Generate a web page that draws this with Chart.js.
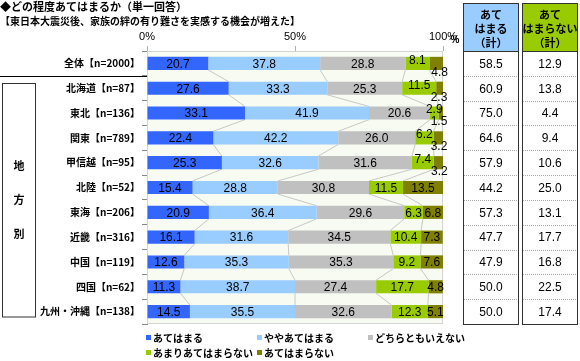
<!DOCTYPE html>
<html>
<head>
<meta charset="utf-8">
<script src="https://cdn.jsdelivr.net/npm/chart.js@4/dist/chart.umd.min.js"></script>
<style>
  body { margin: 0; background: #fff; }
  canvas { display: block; }
</style>
</head>
<body>
<canvas id="graph" width="580" height="361"></canvas>
<script>
/* donnees */
var categories = ['全体【n=2000】', '北海道【n=87】', '東北【n=136】', '関東【n=789】', '甲信越【n=95】',
  '北陸【n=52】', '東海【n=206】', '近畿【n=316】', '中国【n=119】', '四国【n=62】', '九州・沖縄【n=138】'];
var seriesNames = ['あてはまる', 'ややあてはまる', 'どちらともいえない', 'あまりあてはまらない', 'あてはまらない'];
var atehamaru = [20.7, 27.6, 33.1, 22.4, 25.3, 15.4, 20.9, 16.1, 12.6, 11.3, 14.5];
var yaya = [37.8, 33.3, 41.9, 42.2, 32.6, 28.8, 36.4, 31.6, 35.3, 38.7, 35.5];
var dochira = [28.8, 25.3, 20.6, 26.0, 31.6, 30.8, 29.6, 34.5, 35.3, 27.4, 32.6];
var amari = [8.1, 11.5, 2.9, 6.2, 7.4, 11.5, 6.3, 10.4, 9.2, 17.7, 12.3];
var atehamaranai = [4.8, 2.3, 1.5, 3.2, 3.2, 13.5, 6.8, 7.3, 7.6, 4.8, 5.1];
var totalYes = [58.5, 60.9, 75.0, 64.6, 57.9, 44.2, 57.3, 47.7, 47.9, 50.0, 50.0];
var totalNo = [12.9, 13.8, 4.4, 9.4, 10.6, 25.0, 13.1, 17.7, 16.8, 22.5, 17.4];
var xTicks = [0, 50, 100];

var colors = ['#3366ff', '#99ccff', '#c0c0c0', '#99cc00', '#808000'];
var FONT = '"Liberation Sans", "Noto Sans CJK JP", sans-serif';
var JP = '"Noto Sans CJK JP", sans-serif';

var allSeries = [atehamaru, yaya, dochira, amari, atehamaranai];

// petite etiquette en dehors de la barre quand les 2 derniers segments sont trop petits
function isTight(i) {
    return atehamaranai[i] < 5 && amari[i] < 12;
}

/* fond de la zone + traits entre les barres */
var fondPlugin = {
    id: 'fond',
    beforeDatasetsDraw: function(chart) {
        var ctx = chart.ctx, a = chart.chartArea;
        ctx.save();
        ctx.fillStyle = '#f7fbf1';
        ctx.fillRect(a.left, a.top, a.right - a.left, a.bottom - a.top);
        ctx.strokeStyle = '#d4d4d4';
        ctx.lineWidth = 1;
        ctx.strokeRect(a.left + 0.5, a.top + 0.5, a.right - a.left - 1, a.bottom - a.top - 1);

        // lignes de liaison (series lines)
        ctx.strokeStyle = '#c8c8c8';
        for (var k = 0; k < 4; k++) {
            var meta = chart.getDatasetMeta(k);
            for (var i = 0; i < categories.length - 1; i++) {
                var b1 = meta.data[i], b2 = meta.data[i + 1];
                ctx.beginPath();
                ctx.moveTo(b1.x, b1.y + b1.height / 2);
                ctx.lineTo(b2.x, b2.y - b2.height / 2);
                ctx.stroke();
            }
        }
        ctx.restore();
    }
};

/* etiquettes des valeurs */
var labelPlugin = {
    id: 'etiquettes',
    afterDatasetsDraw: function(chart) {
        var ctx = chart.ctx;
        ctx.save();
        ctx.font = '12px ' + FONT;
        ctx.fillStyle = '#000';
        ctx.textAlign = 'center';
        ctx.textBaseline = 'middle';
        chart.data.datasets.forEach(function(ds, k) {
            var meta = chart.getDatasetMeta(k);
            meta.data.forEach(function(bar, i) {
                var x = (bar.x + bar.base) / 2;
                var y = bar.y + 1;
                if (isTight(i) && k == 3) y -= 4;
                if (isTight(i) && k == 4) { x = bar.x - 4; y += 8; }
                ctx.fillText(ds.data[i].toFixed(1), x, y);
            });
        });
        ctx.restore();
    }
};

/* titre, encadre gauche, tableau, legende */
var decorPlugin = {
    id: 'decor',
    afterDraw: function(chart) {
        var ctx = chart.ctx, a = chart.chartArea;
        var yScale = chart.scales.y;
        var n = categories.length;
        var rowH = (yScale.bottom - yScale.top) / n;
        ctx.save();
        ctx.fillStyle = '#000';
        ctx.textBaseline = 'middle';

        // titre
        ctx.textAlign = 'left';
        ctx.font = 'bold 11px ' + JP;
        ctx.fillText('◆どの程度あてはまるか（単一回答）', 0, 7);
        ctx.font = 'bold 10px ' + JP;
        ctx.fillText('【東日本大震災後、家族の絆の有り難さを実感する機会が増えた】', 0, 21);

        // separateur sous "全体"
        var sepY = Math.round(yScale.top + rowH) + 0.5;
        ctx.strokeStyle = '#000';
        ctx.lineWidth = 1;
        ctx.beginPath();
        ctx.moveTo(0, sepY);
        ctx.lineTo(a.left, sepY);
        ctx.stroke();

        // encadre "地方別"
        var boxTop = sepY + 7, boxBot = yScale.bottom - 7;
        ctx.strokeStyle = '#333';
        ctx.strokeRect(2.5, boxTop, 33, boxBot - boxTop);
        ctx.font = 'bold 11px ' + JP;
        ctx.textAlign = 'center';
        var mid = (boxTop + boxBot) / 2;
        ['地', '方', '別'].forEach(function(c, j) {
            ctx.fillText(c, 19, mid + (j - 1) * 34);
        });

        // "%"
        ctx.font = 'bold 10px ' + FONT;
        ctx.fillText('%', 455, 40);

        // tableau de droite
        var cols = [
            { x: 463, w: 56, bg: '#99ccff', head: ['あて', 'はまる', '（計）'], vals: totalYes },
            { x: 522, w: 56, bg: '#99cc00', head: ['あて', 'はまらない', '（計）'], vals: totalNo }
        ];
        cols.forEach(function(c) {
            ctx.fillStyle = c.bg;
            ctx.fillRect(c.x, 3, c.w, yScale.top - 3);
            ctx.fillStyle = '#fff';
            ctx.fillRect(c.x, yScale.top, c.w, yScale.bottom - yScale.top);
            ctx.strokeStyle = '#333';
            ctx.setLineDash([]);
            ctx.strokeRect(c.x + 0.5, 3.5, c.w - 1, yScale.top - 3);
            ctx.strokeRect(c.x + 0.5, yScale.top + 0.5, c.w - 1, yScale.bottom - yScale.top);
            ctx.fillStyle = '#000';
            ctx.font = 'bold 11px ' + JP;
            c.head.forEach(function(t, j) {
                ctx.fillText(t, c.x + c.w / 2, 15 + j * 14);
            });
            ctx.font = '12px ' + FONT;
            for (var i = 0; i < n; i++) {
                var cy = yScale.getPixelForValue(i);
                ctx.fillText(c.vals[i].toFixed(1), c.x + c.w / 2, cy + 1);
                if (i > 0) {
                    var ly = Math.round(cy - rowH / 2) + 0.5;
                    ctx.strokeStyle = '#aaa';
                    ctx.setLineDash([1, 1]);
                    ctx.beginPath();
                    ctx.moveTo(c.x + 1, ly);
                    ctx.lineTo(c.x + c.w - 1, ly);
                    ctx.stroke();
                }
            }
            ctx.setLineDash([]);
        });

        // legende
        var legPos = [[146, 338], [257, 338], [368, 338], [146, 353], [257, 353]];
        ctx.textAlign = 'left';
        ctx.font = 'bold 10px ' + JP;
        seriesNames.forEach(function(name, k) {
            var p = legPos[k];
            ctx.fillStyle = colors[k];
            ctx.fillRect(p[0], p[1] - 3, 5, 5);
            ctx.fillStyle = '#000';
            ctx.fillText(name, p[0] + 7, p[1]);
        });
        ctx.restore();
    }
};

var graph = document.getElementById('graph').getContext('2d');

var myChart = new Chart(graph, {
    type: 'bar',
    data: {
        labels: categories,
        datasets: allSeries.map(function(vals, k) {
            return {
                label: seriesNames[k],
                data: vals,
                backgroundColor: colors[k],
                borderWidth: 0,
                barPercentage: 0.53,
                categoryPercentage: 1,
            };
        }),
    },
    options: {
        indexAxis: 'y',
        responsive: false,
        animation: false,
        layout: {
            padding: { top: 0, left: 0, right: 137, bottom: 37 },
        },
        scales: {
            x: {
                position: 'top',
                stacked: true,
                min: 0,
                max: 100,
                afterBuildTicks: function(scale) {
                    scale.ticks = xTicks.map(function(v) { return { value: v }; });
                },
                afterFit: function(scale) { scale.height = 51; },
                ticks: {
                    color: '#000',
                    padding: 2,
                    maxRotation: 0,
                    font: { size: 11, family: FONT },
                    callback: function(v) { return v + '%'; },
                },
                grid: { drawOnChartArea: false, tickLength: 5, color: '#b0b0b0' },
                border: { display: false },
            },
            y: {
                stacked: true,
                afterFit: function(scale) { scale.width = 147; },
                ticks: {
                    color: '#000',
                    padding: 2,
                    font: { size: 10, weight: 'bold', family: JP },
                },
                grid: { drawOnChartArea: false, tickLength: 5, color: '#888' },
                border: { color: '#888' },
            },
        },
        plugins: {
            legend: { display: false },
            tooltip: { enabled: false },
        },
    },
    plugins: [fondPlugin, labelPlugin, decorPlugin],
});
</script>
</body>
</html>
